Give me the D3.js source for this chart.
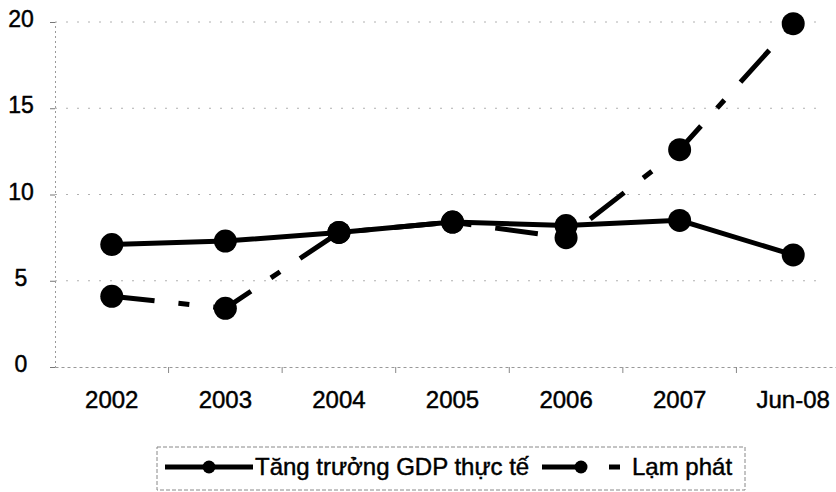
<!DOCTYPE html>
<meta charset="utf-8">
<script src="https://d3js.org/d3.v7.min.js"></script>
<style>
  body { margin: 0; background: #fff; }
  text { font-family: "Liberation Sans", Arial, sans-serif; fill: #000; stroke: #000; stroke-width: 0.45px; }
</style>
<svg id="chart" width="836" height="492"></svg>
<script>
// data
var years = ["2002", "2003", "2004", "2005", "2006", "2007", "Jun-08"];
var gdp = [7.1, 7.3, 7.8, 8.4, 8.2, 8.5, 6.5];
var inflation = [4.1, 3.4, 7.8, 8.4, 7.5, 12.6, 19.9];
var yTicks = [0, 5, 10, 15, 20];
var seriesNames = ["Tăng trưởng GDP thực tế", "Lạm phát"];

var svg = d3.select("#chart");

var x = d3.scaleBand().domain(years).range([55, 850]);
var y = d3.scaleLinear().domain([0, 20]).range([367, 22]);
var cx = function(d) { return x(d) + x.bandwidth() / 2; };

var dash = "43,24,11,24";

// faint dotted gridlines
svg.append("g").selectAll("line")
  .data(yTicks.filter(function(d) { return d > 0; }))
  .enter().append("line")
    .attr("x1", 55).attr("x2", 820)
    .attr("y1", function(d) { return y(d); })
    .attr("y2", function(d) { return y(d); })
    .attr("stroke", "#b0b0b0")
    .attr("stroke-width", 1)
    .attr("stroke-dasharray", "2,9");

// y axis
var yAxis = svg.append("g").attr("transform", "translate(55,0)")
  .call(d3.axisLeft(y).tickValues(yTicks).tickSize(5).tickFormat(""));
yAxis.select(".domain").attr("stroke", "#999").attr("stroke-dasharray", "2,3");
yAxis.selectAll(".tick line").attr("stroke", "#777");

svg.append("g").selectAll("text")
  .data(yTicks)
  .enter().append("text")
    .attr("x", 21)
    .attr("y", function(d) { return y(d) + 5; })
    .attr("text-anchor", "middle")
    .style("font-size", "23px")
    .text(function(d) { return d; });

// x axis
var xAxis = svg.append("g").attr("transform", "translate(0,367)")
  .call(d3.axisBottom(x).tickSize(0).tickFormat(""));
xAxis.select(".domain").attr("stroke", "#999").attr("stroke-dasharray", "3,3");

// category separators below the axis
svg.append("g").selectAll("line")
  .data(years.slice(1))
  .enter().append("line")
    .attr("x1", function(d) { return x(d); })
    .attr("x2", function(d) { return x(d); })
    .attr("y1", 367).attr("y2", 373)
    .attr("stroke", "#888");

svg.append("g").selectAll("text")
  .data(years)
  .enter().append("text")
    .attr("x", cx)
    .attr("y", 408)
    .attr("text-anchor", "middle")
    .style("font-size", "24px")
    .text(function(d) { return d; });

// lines
var line = d3.line()
  .x(function(d, i) { return cx(years[i]); })
  .y(function(d) { return y(d); });

svg.append("path")
  .datum(inflation)
  .attr("d", line)
  .attr("fill", "none")
  .attr("stroke", "#000")
  .attr("stroke-width", 5)
  .attr("stroke-dasharray", dash);

svg.append("g").selectAll("circle")
  .data(inflation)
  .enter().append("circle")
    .attr("cx", function(d, i) { return cx(years[i]); })
    .attr("cy", function(d) { return y(d); })
    .attr("r", 11.5)
    .attr("fill", "#000");

svg.append("path")
  .datum(gdp)
  .attr("d", line)
  .attr("fill", "none")
  .attr("stroke", "#000")
  .attr("stroke-width", 5);

svg.append("g").selectAll("circle")
  .data(gdp)
  .enter().append("circle")
    .attr("cx", function(d, i) { return cx(years[i]); })
    .attr("cy", function(d) { return y(d); })
    .attr("r", 11.5)
    .attr("fill", "#000");

// legend
var legend = svg.append("g");
legend.append("rect")
  .attr("x", 157).attr("y", 447)
  .attr("width", 588).attr("height", 43)
  .attr("fill", "none")
  .attr("stroke", "#888")
  .attr("stroke-dasharray", "4,2");

var items = [
  { name: seriesNames[0], x1: 165, x2: 253, mx: 209, dash: null, tx: 255 },
  { name: seriesNames[1], x1: 542, x2: 628, mx: 581, dash: dash, tx: 632 }
];
var ly = 467;
items.forEach(function(it) {
  legend.append("line")
    .attr("x1", it.x1).attr("x2", it.x2)
    .attr("y1", ly).attr("y2", ly)
    .attr("stroke", "#000")
    .attr("stroke-width", 5)
    .attr("stroke-dasharray", it.dash);
  legend.append("circle")
    .attr("cx", it.mx)
    .attr("cy", ly)
    .attr("r", 6.5)
    .attr("fill", "#000");
  legend.append("text")
    .attr("x", it.tx)
    .attr("y", ly + 8)
    .style("font-size", "24px")
    .text(it.name);
});
</script>
